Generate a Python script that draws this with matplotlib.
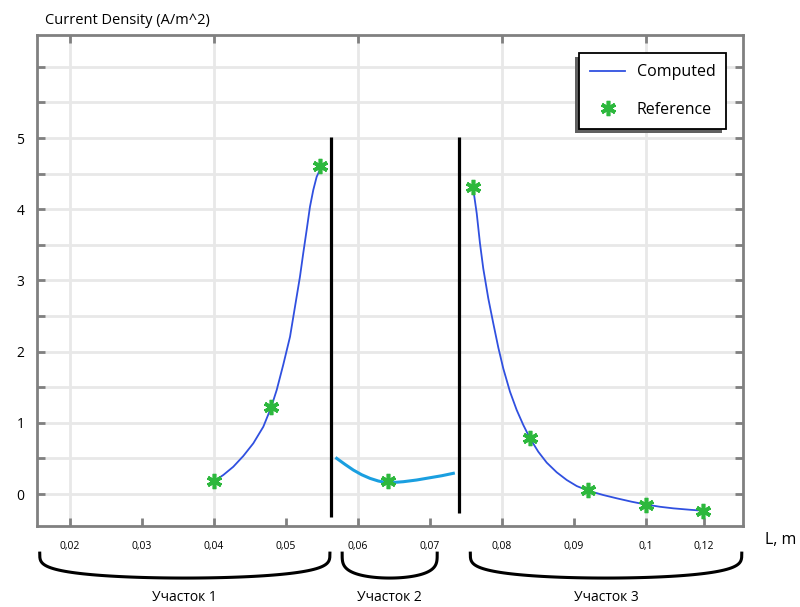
import numpy as np
import matplotlib.pyplot as plt
from matplotlib.patches import Rectangle
from matplotlib.transforms import IdentityTransform

plt.rcParams['font.family'] = ['Open Sans', 'DejaVu Sans']

# computed solution, three parts
x_part1 = [0.03990, 0.04129, 0.04268, 0.04407, 0.04546, 0.04685, 0.04792, 0.04871,
           0.04963, 0.05056, 0.05125, 0.05194, 0.05240, 0.05287, 0.05333, 0.05379,
           0.05426, 0.05496]
y_part1 = [0.173, 0.267, 0.383, 0.534, 0.712, 0.945, 1.212, 1.461,
           1.820, 2.209, 2.631, 3.052, 3.385, 3.708, 4.035, 4.270,
           4.456, 4.607]

x_part2 = [0.05704, 0.05819, 0.05935, 0.06051, 0.06167, 0.06282, 0.06399, 0.06514,
           0.06629, 0.06815, 0.07000, 0.07163, 0.07324]
y_part2 = [0.501, 0.417, 0.337, 0.271, 0.220, 0.183, 0.159, 0.164,
           0.173, 0.197, 0.229, 0.257, 0.291]

x_part3 = [0.07597, 0.07649, 0.07694, 0.07740, 0.07810, 0.07879, 0.07949, 0.08018,
           0.08111, 0.08204, 0.08296, 0.08389, 0.08504, 0.08621, 0.08760, 0.08899,
           0.09038, 0.09199, 0.09407, 0.09593, 0.09801, 0.09986, 0.10194, 0.10379,
           0.10611, 0.10796]
y_part3 = [4.310, 3.942, 3.521, 3.166, 2.745, 2.397, 2.056, 1.762,
           1.437, 1.180, 0.969, 0.782, 0.594, 0.441, 0.305, 0.197,
           0.112, 0.046, -0.014, -0.060, -0.108, -0.145, -0.179, -0.201,
           -0.221, -0.235]

# reference points
x_ref = [0.0400, 0.0479, 0.0547, 0.0642, 0.0760, 0.0839, 0.0919, 0.1000, 0.1079]
y_ref = [0.18, 1.22, 4.61, 0.18, 4.31, 0.79, 0.06, -0.15, -0.24]

# part boundaries
x_bounds = [0.0562, 0.0740]
parts = ['Участок 1', 'Участок 2', 'Участок 3']
spans = [(0.0158, 0.0561), (0.0578, 0.0710), (0.0756, 0.1133)]

grid_ticks = [0.02, 0.04, 0.06, 0.08, 0.10]
grid_labels = ['0,02', '0,04', '0,06', '0,08', '0,1']
odd_ticks = [0.03, 0.05, 0.07, 0.09, 0.108]
odd_labels = ['0,03', '0,05', '0,07', '0,09', '0,12']

fig = plt.figure(figsize=(8, 6.07), dpi=100)
ax = fig.add_axes([37/800, 81/607, 706/800, 491/607])

blue = '#3050e0'
ax.plot(x_part1, y_part1, color=blue, lw=1.3, label='Computed', zorder=3)
ax.plot(x_part2, y_part2, color='#1a9fe0', lw=2.2, zorder=3)
ax.plot(x_part3, y_part3, color=blue, lw=1.3, zorder=3)
ax.plot(x_ref, y_ref, ls='none', marker=(6, 2, 0), ms=11, mew=2.6,
        color='#2db83d', label='Reference', zorder=4)

ax.vlines(x_bounds[0], -0.32, 5.01, color='black', lw=2.3, zorder=3)
ax.vlines(x_bounds[1], -0.27, 5.01, color='black', lw=2.3, zorder=3)

ax.set_xlim(0.01542, 0.11347)
ax.set_ylim(-0.449, 6.447)

ax.set_xticks(grid_ticks)
ax.set_xticklabels(grid_labels)
ax.set_xticks(odd_ticks, minor=True)
ax.set_xticklabels(odd_labels, minor=True)
yt = np.arange(0, 6.01, 0.5)
ax.set_yticks(yt)
ax.set_yticklabels([str(int(v)) if v == int(v) and v <= 5 else '' for v in yt])

ax.grid(True, which='major', color='#e8e8e8', lw=2)
ax.set_axisbelow(True)
for s in ax.spines.values():
    s.set_color('#808080')
    s.set_linewidth(2)
ax.tick_params(axis='x', which='both', direction='in', length=6, width=2,
               color='#808080', labelsize=7.5, pad=11, top=True)
ax.tick_params(axis='x', which='minor', top=False)
ax.tick_params(axis='y', direction='in', length=6, width=2, color='#808080',
               labelsize=10, pad=9, right=True)

# braces under the axis
for (a, b), name in zip(spans, parts):
    t = np.linspace(0, np.pi, 80)
    xs = (a + b) / 2 - (b - a) / 2 * np.cos(t)
    ys = -0.83 - 0.35 * np.sin(t) ** 0.55
    ax.plot(xs, ys, color='black', lw=2.2, clip_on=False)
    ax.text((a + b) / 2, -1.46, name, ha='center', va='center', fontsize=10)

ax.text(0.1165, -0.646, 'L, m', ha='left', va='center', fontsize=11.5)
fig.text(45/800, 1 - 20/607, 'Current Density (A/m^2)', ha='left', va='center',
         fontsize=10.5)

leg = ax.legend(loc='upper left', bbox_to_anchor=(579/800, 1 - 53/607),
                bbox_transform=fig.transFigure, borderaxespad=0, fancybox=False,
                fontsize=11.5, handlelength=2.2, handletextpad=0.7, labelspacing=1.35,
                borderpad=0.7, framealpha=1)
leg.get_frame().set_edgecolor('black')
leg.get_frame().set_linewidth(1.3)

fig.canvas.draw()
bb = leg.get_window_extent()
shadow = Rectangle((bb.x0 - 4, bb.y0 - 4), bb.width, bb.height,
                   transform=IdentityTransform(), facecolor='#606060',
                   edgecolor='none', zorder=leg.get_zorder() - 0.1, clip_on=False)
ax.add_artist(shadow)

fig.savefig('out.png', dpi=100)
